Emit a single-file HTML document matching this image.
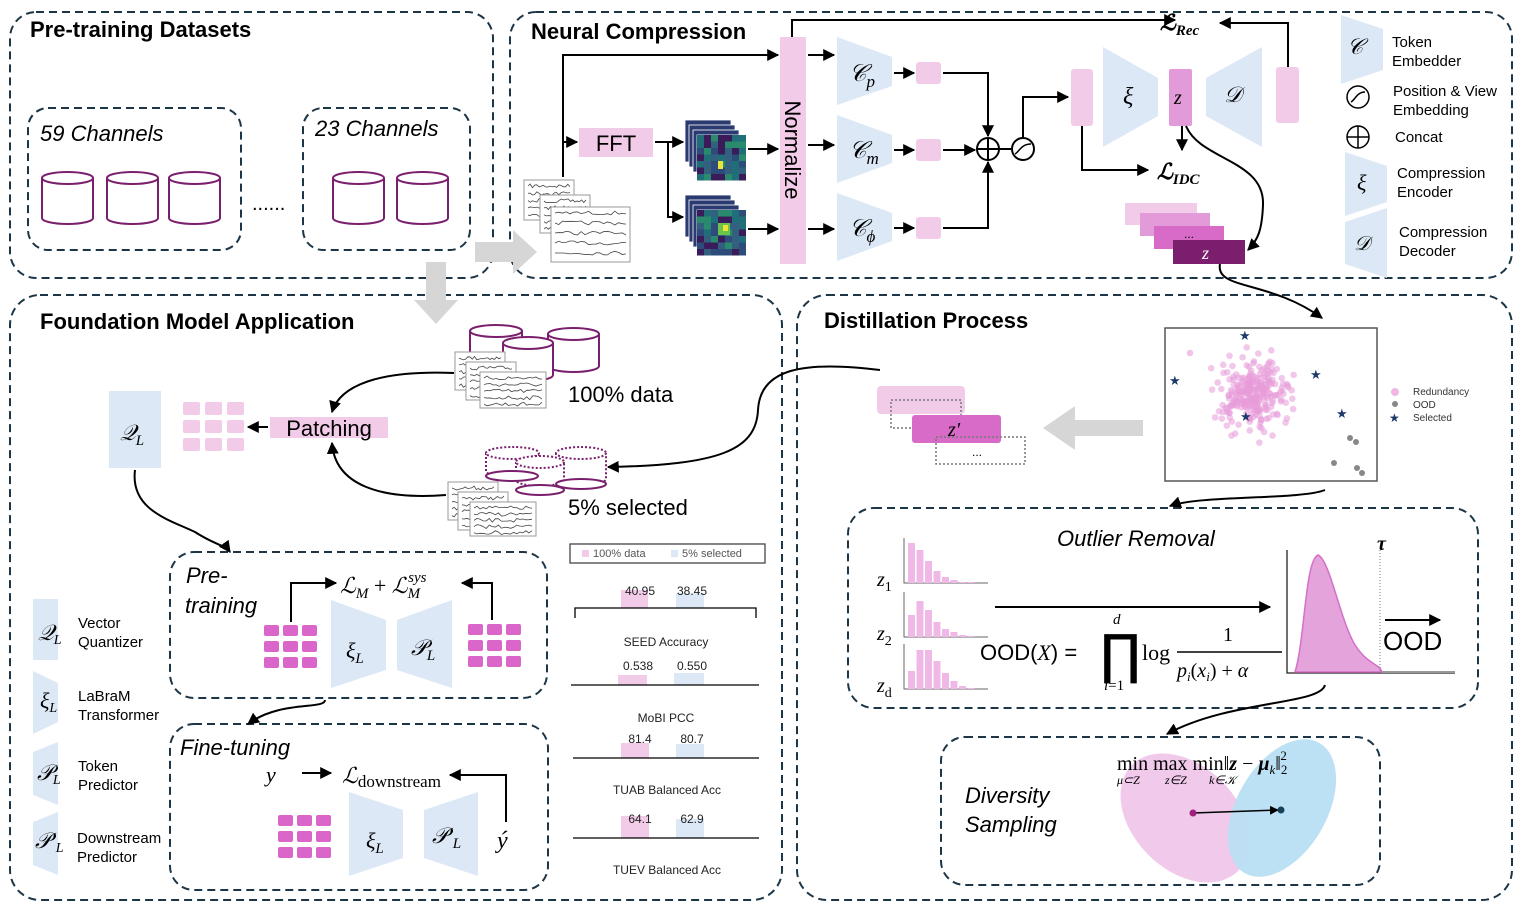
<!DOCTYPE html>
<html><head><meta charset="utf-8">
<style>
html,body{margin:0;padding:0;background:#fff;}
svg{display:block;}
text{font-family:"Liberation Sans",sans-serif;}
.m{font-family:"Liberation Serif",serif;font-style:italic;}
.h{font-weight:bold;font-size:22px;fill:#000;}
</style></head>
<body>
<svg id="s" width="1522" height="912" viewBox="0 0 1522 912" xmlns="http://www.w3.org/2000/svg">
<defs>
<marker id="a" viewBox="0 0 10 10" refX="9" refY="5" markerWidth="6" markerHeight="6" orient="auto-start-reverse"><path d="M0,0L10,5L0,10z" fill="#000"/></marker>
<clipPath id="cb"><rect x="1166" y="329" width="210" height="151"/></clipPath>
</defs>
<g fill="none" stroke="#1d3647" stroke-width="2" stroke-dasharray="8,5">
<rect x="10" y="12" width="483" height="266" rx="26"/>
<rect x="510" y="12" width="1002" height="266" rx="26"/>
<rect x="10" y="295" width="772" height="605" rx="30"/>
<rect x="797" y="295" width="715" height="605" rx="30"/>
<rect x="28" y="108" width="213" height="142" rx="20"/>
<rect x="303" y="108" width="167" height="142" rx="20"/>
<rect x="170" y="552" width="377" height="146" rx="24"/>
<rect x="170" y="724" width="378" height="166" rx="24"/>
<rect x="848" y="508" width="630" height="200" rx="26"/>
<rect x="941" y="737" width="439" height="148" rx="24"/>
</g>
<text x="30" y="37" class="h">Pre-training Datasets</text>
<text x="531" y="39" class="h">Neural Compression</text>
<text x="40" y="329" class="h">Foundation Model Application</text>
<text x="824" y="328" class="h">Distillation Process</text>
<text x="40" y="141" font-size="22" font-style="italic">59 Channels</text>
<text x="315" y="136" font-size="22" font-style="italic">23 Channels</text>
<text x="252" y="210" font-size="20">......</text>
<g id="cyls"></g>
<path d="M475,242h38v-12l24,22l-24,22v-12h-38z" fill="#d6d6d6"/>
<path d="M426,262h20v38h12l-22,24l-22,-24h12z" fill="#d6d6d6"/>
<path d="M1143,420h-68v-14l-32,22l32,22v-14h68z" fill="#d6d6d6"/>

<g id="papers"></g>
<rect x="780" y="37" width="26" height="227" fill="#f2cbe8"/>
<text transform="translate(785,150) rotate(90)" text-anchor="middle" font-size="22">Normalize</text>
<rect x="579" y="128" width="74" height="29" fill="#f2cbe8"/>
<text x="616" y="151" text-anchor="middle" font-size="22">FFT</text>
<g id="heat"></g>
<g fill="#dce8f5">
<path d="M837,37L892,57L892,86L837,105z"/>
<path d="M837,115L892,135L892,163L837,183z"/>
<path d="M837,193L892,213L892,241L837,261z"/>
<path d="M1103,47L1158,78L1158,116L1103,147z"/>
<path d="M1262,47L1206,78L1206,116L1262,147z"/>
</g>
<text x="849" y="81" class="m" font-size="24">𝒞<tspan font-size="17" dy="6">p</tspan></text>
<text x="849" y="158" class="m" font-size="24">𝒞<tspan font-size="17" dy="6">m</tspan></text>
<text x="849" y="236" class="m" font-size="24">𝒞<tspan font-size="17" dy="6">ϕ</tspan></text>
<text x="1123" y="104" class="m" font-size="24">ξ</text>
<text x="1224" y="102" class="m" font-size="22">𝒟</text>
<g fill="#f2cbe8">
<rect x="916" y="62" width="25" height="22" rx="3"/>
<rect x="916" y="139" width="25" height="22" rx="3"/>
<rect x="916" y="217" width="25" height="22" rx="3"/>
<rect x="1071" y="69" width="22" height="57" rx="3"/>
<rect x="1276" y="67" width="23" height="56" rx="3"/>
</g>
<rect x="1169" y="69" width="23" height="57" rx="2" fill="#e39ad8"/>
<text x="1174" y="104" class="m" font-size="20">z</text>
<g fill="none" stroke="#000" stroke-width="2">
<path d="M563,177V55H778" marker-end="url(#a)"/>
<path d="M563,142H577" marker-end="url(#a)"/>
<path d="M655,142H668V217H683" marker-end="url(#a)"/>
<path d="M668,142H683" marker-end="url(#a)"/>
<path d="M748,149H778" marker-end="url(#a)"/>
<path d="M748,229H778" marker-end="url(#a)"/>
<path d="M808,55H834" marker-end="url(#a)"/>
<path d="M808,145H834" marker-end="url(#a)"/>
<path d="M808,229H834" marker-end="url(#a)"/>
<path d="M894,73H914" marker-end="url(#a)"/>
<path d="M894,150H914" marker-end="url(#a)"/>
<path d="M894,228H914" marker-end="url(#a)"/>
<path d="M943,73H988V136" marker-end="url(#a)"/>
<path d="M943,150H975" marker-end="url(#a)"/>
<path d="M943,228H988V162" marker-end="url(#a)"/>
<path d="M999,149H1011"/>
<path d="M1023,138V97H1068" marker-end="url(#a)"/>
<path d="M792,37V20H1175" marker-end="url(#a)"/>
<path d="M1288,67V23H1220" marker-end="url(#a)"/>
<path d="M1082,126V170H1148" marker-end="url(#a)"/>
<path d="M1182,126V150" marker-end="url(#a)"/>
<path d="M1186,126C1200,160 1265,160 1263,205C1262,230 1258,240 1248,250" marker-end="url(#a)"/>
<path d="M1220,264C1215,290 1270,280 1322,318" marker-end="url(#a)"/>
<circle cx="988" cy="149" r="11"/>
<path d="M977,149h22M988,138v22"/>
<circle cx="1023" cy="149" r="11"/>
<path d="M1015,154c4,-2 6,-10 16,-10" stroke-width="1.5"/>
</g>
<text x="1160" y="30" class="m" font-size="22" font-weight="bold">ℒ<tspan font-size="15" dy="5">Rec</tspan></text>
<text x="1157" y="179" class="m" font-size="22" font-weight="bold">ℒ<tspan font-size="15" dy="5">IDC</tspan></text>
<rect x="1125" y="203" width="72" height="22" fill="#f2cbe8"/>
<rect x="1140" y="213" width="70" height="23" fill="#e39ad8"/>
<rect x="1154" y="226" width="70" height="23" fill="#d86ac8"/>
<text x="1184" y="238" font-size="12">...</text>
<rect x="1173" y="240" width="72" height="24" fill="#7b1e6d"/>
<text x="1202" y="259" class="m" font-size="18" fill="#fff">z</text>
<path d="M1341,15L1383,29L1383,70L1341,84z" fill="#dce8f5"/>
<text x="1347" y="54" class="m" font-size="22">𝒞</text>
<text x="1392" y="47" font-size="15">Token</text><text x="1392" y="66" font-size="15">Embedder</text>
<circle cx="1358" cy="97" r="11" fill="none" stroke="#000" stroke-width="1.5"/>
<path d="M1351,102c4,-2 6,-10 14,-10" stroke="#000" fill="none" stroke-width="1.5"/>
<text x="1393" y="96" font-size="15">Position &amp; View</text><text x="1393" y="115" font-size="15">Embedding</text>
<circle cx="1358" cy="137" r="11" fill="none" stroke="#000" stroke-width="1.5"/>
<path d="M1347,137h22M1358,126v22" stroke="#000" stroke-width="1.5"/>
<text x="1395" y="142" font-size="15">Concat</text>
<path d="M1345,152L1387,166L1387,202L1345,216z" fill="#dce8f5"/>
<text x="1357" y="190" class="m" font-size="22">ξ</text>
<text x="1397" y="178" font-size="15">Compression</text><text x="1397" y="197" font-size="15">Encoder</text>
<path d="M1387,208L1345,222L1345,264L1387,278z" fill="#dce8f5"/>
<text x="1354" y="250" class="m" font-size="20">𝒟</text>
<text x="1399" y="237" font-size="15">Compression</text><text x="1399" y="256" font-size="15">Decoder</text>

<rect x="109" y="391" width="52" height="77" fill="#dce8f5"/>
<text x="120" y="440" class="m" font-size="22">𝒬<tspan font-size="15" dy="5">L</tspan></text>
<g id="grids"></g>
<rect x="270" y="417" width="118" height="21" fill="#f2cbe8"/>
<text x="329" y="436" text-anchor="middle" font-size="22">Patching</text>
<path d="M268,427H248" stroke="#000" stroke-width="2" marker-end="url(#a)"/>
<text x="568" y="402" font-size="22">100% data</text>
<text x="568" y="515" font-size="22">5% selected</text>
<g fill="none" stroke="#000" stroke-width="2">
<path d="M454,373C380,370 340,385 332,412" marker-end="url(#a)"/>
<path d="M446,495C380,500 335,485 332,443" marker-end="url(#a)"/>
<path d="M135,470C130,510 170,520 195,532C215,545 225,545 230,552" marker-end="url(#a)"/>
<path d="M291,622V583H336" marker-end="url(#a)"/>
<path d="M492,620V583H462" marker-end="url(#a)"/>
<path d="M325,700C325,710 280,700 248,724" marker-end="url(#a)"/>
<path d="M302,773H331" marker-end="url(#a)"/>
<path d="M506,822V775H450" marker-end="url(#a)"/>
<path d="M880,370C800,360 760,370 758,410C756,450 720,465 608,467" marker-end="url(#a)"/>
<path d="M1325,490C1300,500 1200,495 1170,506" marker-end="url(#a)"/>
<path d="M1325,685C1320,705 1230,700 1167,734" marker-end="url(#a)"/>
</g>
<g fill="#dce8f5">
<path d="M331,600L386,620L386,670L331,688z"/>
<path d="M452,600L397,620L397,670L452,688z"/>
<path d="M349,792L403,810L403,858L349,876z"/>
<path d="M478,792L424,810L424,858L478,876z"/>
<rect x="33" y="599" width="25" height="61"/>
<path d="M33,671L58,683L58,722L33,734z"/>
<path d="M58,742L33,752L33,795L58,805z"/>
<path d="M58,812L33,822L33,865L58,875z"/>
</g>
<text x="186" y="583" font-size="22" font-style="italic">Pre-</text>
<text x="185" y="613" font-size="22" font-style="italic">training</text>
<text x="180" y="755" font-size="22" font-style="italic">Fine-tuning</text>
<text x="340" y="593" class="m" font-size="22">ℒ<tspan font-size="15" dy="5">M</tspan><tspan dy="-5" font-style="normal"> + </tspan>ℒ<tspan font-size="15" dy="5">M</tspan><tspan font-size="15" dx="-12" dy="-16">sys</tspan></text>
<text x="346" y="658" class="m" font-size="22">ξ<tspan font-size="15" dy="5">L</tspan></text>
<text x="411" y="655" class="m" font-size="22">𝒫<tspan font-size="15" dy="5">L</tspan></text>
<text x="266" y="782" class="m" font-size="22">y</text>
<text x="342" y="783" class="m" font-size="22">ℒ<tspan font-size="17" dy="4" font-style="normal">downstream</tspan></text>
<text x="366" y="848" class="m" font-size="22">ξ<tspan font-size="15" dy="5">L</tspan></text>
<text x="432" y="843" class="m" font-size="22">𝒫′<tspan font-size="15" dy="5">L</tspan></text>
<text x="497" y="848" class="m" font-size="24">ý</text>
<text x="38" y="640" class="m" font-size="22">𝒬<tspan font-size="14" dy="4">L</tspan></text>
<text x="40" y="708" class="m" font-size="22">ξ<tspan font-size="14" dy="4">L</tspan></text>
<text x="37" y="780" class="m" font-size="22">𝒫<tspan font-size="14" dy="4">L</tspan></text>
<text x="35" y="848" class="m" font-size="22">𝒫′<tspan font-size="14" dy="4">L</tspan></text>
<g font-size="15">
<text x="78" y="628">Vector</text><text x="78" y="647">Quantizer</text>
<text x="78" y="701">LaBraM</text><text x="78" y="720">Transformer</text>
<text x="78" y="771">Token</text><text x="78" y="790">Predictor</text>
<text x="77" y="843">Downstream</text><text x="77" y="862">Predictor</text>
</g>
<rect x="570" y="544" width="195" height="19" fill="none" stroke="#444" stroke-width="1.3"/>
<rect x="582" y="550" width="7" height="7" fill="#f2cbe8"/><text x="593" y="557" font-size="11" fill="#555">100% data</text>
<rect x="671" y="550" width="7" height="7" fill="#dce8f5"/><text x="682" y="557" font-size="11" fill="#555">5% selected</text>
<g fill="#f2cbe8"><rect x="621" y="590" width="27" height="18"/><rect x="618" y="675" width="29" height="10"/><rect x="621" y="743" width="28" height="15"/><rect x="621" y="816" width="28" height="22"/></g>
<g fill="#dce8f5"><rect x="676" y="593" width="28" height="15"/><rect x="674" y="673" width="30" height="12"/><rect x="676" y="744" width="28" height="14"/><rect x="676" y="819" width="28" height="19"/></g>
<g stroke="#000" stroke-width="1.3" fill="none"><path d="M575,618V608H756V618"/><path d="M571,685H759"/><path d="M573,758H759"/><path d="M573,838H759"/></g>
<g font-size="12" fill="#222" text-anchor="middle">
<text x="640" y="595">40.95</text><text x="692" y="595">38.45</text>
<text x="666" y="646">SEED Accuracy</text>
<text x="638" y="670">0.538</text><text x="692" y="670">0.550</text>
<text x="666" y="722">MoBI PCC</text>
<text x="640" y="743">81.4</text><text x="692" y="743">80.7</text>
<text x="667" y="794">TUAB Balanced Acc</text>
<text x="640" y="823">64.1</text><text x="692" y="823">62.9</text>
<text x="667" y="874">TUEV Balanced Acc</text>
</g>

<rect x="877" y="386" width="88" height="28" rx="4" fill="#f2cbe8"/>
<rect x="891" y="400" width="70" height="28" fill="none" stroke="#777" stroke-width="1.5" stroke-dasharray="2,2"/>
<rect x="912" y="415" width="89" height="28" rx="3" fill="#d86ac8"/>
<text x="948" y="436" class="m" font-size="20">z′</text>
<rect x="936" y="437" width="89" height="27" fill="none" stroke="#777" stroke-width="1.5" stroke-dasharray="2,2"/>
<text x="972" y="456" font-size="12">...</text>
<rect x="1165" y="328" width="212" height="153" fill="#fff" stroke="#555" stroke-width="1.5"/>
<g id="scat" clip-path="url(#cb)"></g>
<circle cx="1395" cy="392" r="4" fill="#f2b6e6"/><text x="1413" y="395" font-size="10" fill="#333">Redundancy</text>
<circle cx="1395" cy="404" r="3" fill="#888"/><text x="1413" y="408" font-size="10" fill="#333">OOD</text>
<text x="1389" y="422" font-size="12" fill="#1d3a6a">★</text><text x="1413" y="421" font-size="10" fill="#333">Selected</text>
<text x="1057" y="546" font-size="22" font-style="italic">Outlier Removal</text>
<g id="hist"></g>
<text x="877" y="586" class="m" font-size="20">z<tspan font-size="14" dy="5" font-style="normal">1</tspan></text>
<text x="877" y="640" class="m" font-size="20">z<tspan font-size="14" dy="5" font-style="normal">2</tspan></text>
<text x="877" y="692" class="m" font-size="20">z<tspan font-size="14" dy="5" font-style="normal">d</tspan></text>
<path d="M995,607H1270" stroke="#000" stroke-width="2" marker-end="url(#a)"/>
<text x="980" y="660" font-size="22">OOD(<tspan class="m">X</tspan>) =</text>
<text x="1100" y="673" font-size="54" style="font-family:'DejaVu Sans'">∏</text>
<text x="1113" y="624" class="m" font-size="15">d</text>
<text x="1104" y="690" class="m" font-size="15">i<tspan font-style="normal">=1</tspan></text>
<text x="1142" y="660" font-size="22" style="font-family:'Liberation Serif'">log</text>
<path d="M1177,652H1282" stroke="#000" stroke-width="1.5"/>
<text x="1223" y="641" font-size="20" style="font-family:'Liberation Serif'">1</text>
<text x="1177" y="677" class="m" font-size="20">p<tspan font-size="13" dy="4">i</tspan><tspan dy="-4" font-style="normal">(</tspan>x<tspan font-size="13" dy="4">i</tspan><tspan dy="-4" font-style="normal">) + </tspan>α</text>
<path d="M1287,550V673H1455" stroke="#222" stroke-width="1.3" fill="none"/>
<path d="M1295,672C1305,640 1305,560 1318,555C1330,560 1340,620 1355,645C1365,660 1372,662 1380,668L1382,672z" fill="#e5a3dc" stroke="#d56fc8" stroke-width="1.5"/>
<path d="M1382,672H1455" stroke="#999" stroke-width="2"/>
<path d="M1380,550V672" stroke="#777" stroke-dasharray="1,2"/>
<text x="1377" y="550" class="m" font-size="20" font-weight="bold">τ</text>
<path d="M1385,620H1440" stroke="#000" stroke-width="2" marker-end="url(#a)"/>
<text x="1383" y="650" font-size="26">OOD</text>
<text x="965" y="803" font-size="22" font-style="italic">Diversity</text>
<text x="965" y="832" font-size="22" font-style="italic">Sampling</text>
<ellipse cx="1185" cy="818" rx="52" ry="75" transform="rotate(-45 1185 818)" fill="#f0c9eb"/>
<ellipse cx="1282" cy="808" rx="45" ry="75" transform="rotate(30 1282 808)" fill="#b9dff3" opacity="0.95"/>
<path d="M1193,813L1278,810" stroke="#000" stroke-width="1.5" marker-end="url(#a)"/>
<circle cx="1193" cy="813" r="3.5" fill="#a0227f"/><circle cx="1281" cy="810" r="3.5" fill="#17405a"/>
<text x="1117" y="770" font-size="20" style="font-family:'Liberation Serif'">min max min‖<tspan class="m" font-weight="bold">z</tspan> − <tspan class="m" font-weight="bold">μ</tspan><tspan class="m" font-size="13" dy="4">k</tspan><tspan dy="-4">‖</tspan><tspan font-size="13" dy="4">2</tspan><tspan font-size="13" dx="-7" dy="-14">2</tspan></text>
<text x="1117" y="784" class="m" font-size="12">μ⊂Z</text><text x="1165" y="784" class="m" font-size="12">z∈Z</text><text x="1209" y="784" class="m" font-size="12">k∈𝒦</text>
</svg>
<script>
var NS="http://www.w3.org/2000/svg",S=document.getElementById.bind(document);
function el(p,t,a){var e=document.createElementNS(NS,t);for(var k in a)e.setAttribute(k,a[k]);p.appendChild(e);return e;}
var seed=7;function r(){seed=(seed*16807)%2147483647;return seed/2147483647;}
function cyl(g,x,y,w,h,c,dash){var a={fill:"#fff",stroke:c,"stroke-width":2};if(dash)a["stroke-dasharray"]="2,2";
 el(g,"path",Object.assign({},a,{d:"M"+x+","+(y+6)+"V"+(y+h-6)+"A"+w/2+",6 0 0 0 "+(x+w)+","+(y+h-6)+"V"+(y+6)}));
 el(g,"ellipse",Object.assign({},a,{cx:x+w/2,cy:y+6,rx:w/2,ry:6}));}
var g=S("cyls");[[42,172],[107,172],[169,172],[333,172],[397,172]].forEach(function(p){cyl(g,p[0],p[1],51,52,"#7a1f6d");});
cyl(g,470,325,52,40,"#7a1f6d");cyl(g,548,328,51,44,"#7a1f6d");cyl(g,503,337,50,44,"#7a1f6d");
cyl(g,486,447,53,30,"#7a1f6d",1);cyl(g,556,447,50,38,"#7a1f6d",1);cyl(g,516,456,48,30,"#7a1f6d",1);
el(g,"ellipse",{cx:512,cy:476,rx:26,ry:5,fill:"#fff",stroke:"#7a1f6d","stroke-width":2});
el(g,"ellipse",{cx:581,cy:484,rx:25,ry:5,fill:"#fff",stroke:"#7a1f6d","stroke-width":2});
el(g,"ellipse",{cx:540,cy:490,rx:24,ry:5,fill:"#fff",stroke:"#7a1f6d","stroke-width":2});
function paper(g,x,y,w,h){el(g,"rect",{x:x,y:y,width:w,height:h,fill:"#fff",stroke:"#999","stroke-width":1});
 for(var i=0;i<5;i++){var d="M"+(x+4)+","+(y+6+i*h/5.5);for(var j=1;j<20;j++)d+="L"+(x+4+j*(w-8)/19)+","+(y+6+i*h/5.5+(r()-0.5)*4);el(g,"path",{d:d,stroke:"#444","stroke-width":0.8,fill:"none"});}}
var pp=S("papers");paper(pp,524,180,50,40);paper(pp,540,195,50,38);paper(pp,551,207,79,55);
paper(g,455,352,50,38);paper(g,466,362,50,38);paper(g,480,372,66,36);
paper(g,448,482,50,38);paper(g,458,492,50,38);paper(g,470,502,66,34);
var hm=S("heat"),cols=["#3b1c5a","#2d4c7a","#1f6e7a","#2a8a6e","#34607f"];
[[685,120],[685,195]].forEach(function(p,k){for(var s=0;s<4;s++){var x=p[0]+s*4,y=p[1]+s*5;el(hm,"rect",{x:x,y:y,width:46,height:42,fill:"#2b3b72",stroke:"#fff","stroke-width":0.8});}
 var x0=p[0]+12,y0=p[1]+15;for(var i=0;i<7;i++)for(var j=0;j<7;j++)el(hm,"rect",{x:x0+i*7,y:y0+j*6.5,width:7,height:6.5,fill:cols[Math.floor(r()*5)]});
 if(k==0)el(hm,"rect",{x:x0+21,y:y0+26,width:5,height:8,fill:"#e8e63a"});else{el(hm,"rect",{x:x0+21,y:y0+13,width:12,height:12,fill:"#6dc24a"});el(hm,"rect",{x:x0+26,y:y0+15,width:5,height:6,fill:"#e8e63a"});}});
var gr=S("grids");function grid(x,y,c,w,h,gx,gy){for(var i=0;i<3;i++)for(var j=0;j<3;j++)el(gr,"rect",{x:x+i*gx,y:y+j*gy,width:w,height:h,rx:2,fill:c});}
grid(183,402,"#f2cbe8",17,13,22,18);grid(264,625,"#d966c8",15,11,19,16);grid(468,624,"#d966c8",15,11,19,16);grid(278,815,"#d966c8",15,11,19,16);
var sc=S("scat");for(var i=0;i<260;i++){var a=r()*6.283,d=Math.min(Math.sqrt(-2*Math.log(r()+1e-6))*16,48);el(sc,"circle",{cx:1253+Math.cos(a)*d*1.05,cy:395+Math.sin(a)*d,r:3.3,fill:"#e79ad9",opacity:0.55});}
el(sc,"circle",{cx:1190,cy:353,r:3.3,fill:"#e79ad9",opacity:0.6});
[[1350,438],[1356,442],[1334,463],[1357,468],[1362,473]].forEach(function(p){el(sc,"circle",{cx:p[0],cy:p[1],r:3,fill:"#888"});});
[[1245,335],[1175,380],[1316,374],[1342,413],[1246,416]].forEach(function(p){var t=el(sc,"text",{x:p[0]-6,y:p[1]+5,"font-size":13,fill:"#1d3a6a"});t.textContent="★";});
var hs=S("hist");[[536,[40,33,22,12,6,3,1,1]],[590,[22,36,27,15,8,5,2,1]],[642,[18,39,39,28,16,8,3,1]]].forEach(function(h){var b=h[0]+47;
 el(hs,"path",{d:"M904,"+(b-45)+"V"+b+"H988",stroke:"#666",fill:"none","stroke-width":1});h[1].forEach(function(v,i){el(hs,"rect",{x:908+i*8.5,y:b-v,width:7,height:v,fill:"#efb8e7"});});});
</script>
</body></html>
